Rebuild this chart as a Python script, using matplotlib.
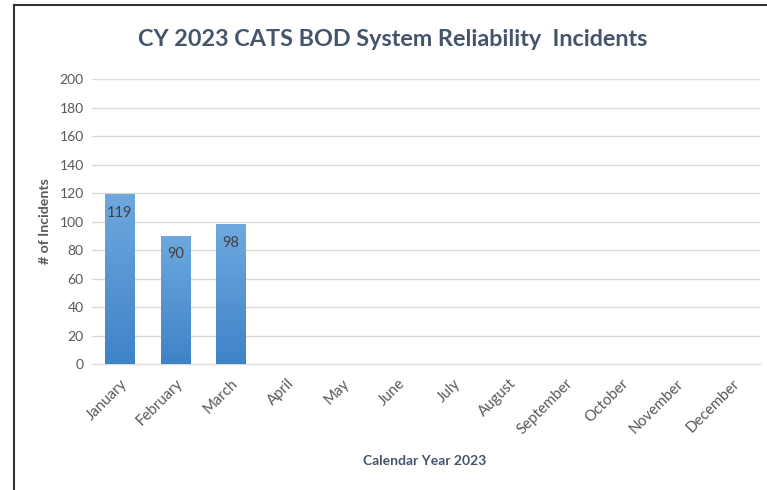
import matplotlib
matplotlib.use("Agg")
import matplotlib.pyplot as plt
import numpy as np
from matplotlib.colors import LinearSegmentedColormap
from matplotlib.lines import Line2D

months = ["January", "February", "March", "April", "May", "June", "July",
          "August", "September", "October", "November", "December"]
incidents = [119, 90, 98]
title = "CY 2023 CATS BOD System Reliability  Incidents"
y_ticks = [0, 20, 40, 60, 80, 100, 120, 140, 160, 180, 200]

plt.rcParams['font.family'] = ['Lato', 'DejaVu Sans']

W, H = 767, 490
fig = plt.figure(figsize=(W / 100, H / 100), dpi=100)
ax = fig.add_axes([92 / W, 1 - 364 / H, (760 - 92) / W, (364 - 79) / H])

x = np.arange(len(months))
bars = ax.bar(x[:len(incidents)], incidents, width=0.53, color="#5b9bd5", zorder=2)

cmap = LinearSegmentedColormap.from_list("g", ["#3f83c8", "#6fa8df"])
grad = np.linspace(0, 1, 256).reshape(-1, 1)
for b in bars:
    x0, y0 = b.get_x(), b.get_y()
    w, h = b.get_width(), b.get_height()
    im = ax.imshow(grad, cmap=cmap, origin="lower", aspect="auto",
                   extent=[x0, x0 + w, y0, y0 + h], zorder=3)
    im.set_clip_path(b)
    ax.text(b.get_x() + w / 2, h - 13, f"{int(h)}", ha="center", va="center",
            fontsize=10.5, color="#404040", zorder=4)

ax.set_xlim(-0.5, len(months) - 0.5)
ax.set_ylim(0, 200)
ax.set_yticks(y_ticks)
ax.set_yticklabels([str(t) for t in y_ticks], fontsize=10, color="#595959")
ax.set_xticks(x)
ax.set_xticklabels(months, rotation=45, ha="right", rotation_mode="anchor",
                   fontsize=10.8, color="#595959")
ax.tick_params(axis="both", length=0, pad=6)
ax.tick_params(axis="x", pad=9)
ax.grid(axis="y", color="#d9d9d9", linewidth=1, zorder=0)
for s in ["top", "right", "left"]:
    ax.spines[s].set_visible(False)
ax.spines["bottom"].set_color("#d9d9d9")
ax.set_axisbelow(True)

ax.set_ylabel("# of Incidents", fontsize=10.2, fontweight="bold", color="#595959",
              labelpad=6)
fig.text(425 / W, 1 - 461 / H, "Calendar Year 2023", ha="center", va="center",
         fontsize=10, fontweight="bold", color="#44546a")
fig.text(393 / W, 1 - 40 / H, title, ha="center", va="center",
         fontsize=16.8, fontweight="bold", color="#44546a")

# frame lines (left and top border)
fig.add_artist(Line2D([14 / W, 14 / W], [0, 1 - 5 / H], transform=fig.transFigure,
                      color="#333333", linewidth=1.5))
fig.add_artist(Line2D([14 / W, 766 / W], [1 - 5 / H, 1 - 5 / H], transform=fig.transFigure,
                      color="#333333", linewidth=1.5))

fig.savefig("out.png", dpi=100)
